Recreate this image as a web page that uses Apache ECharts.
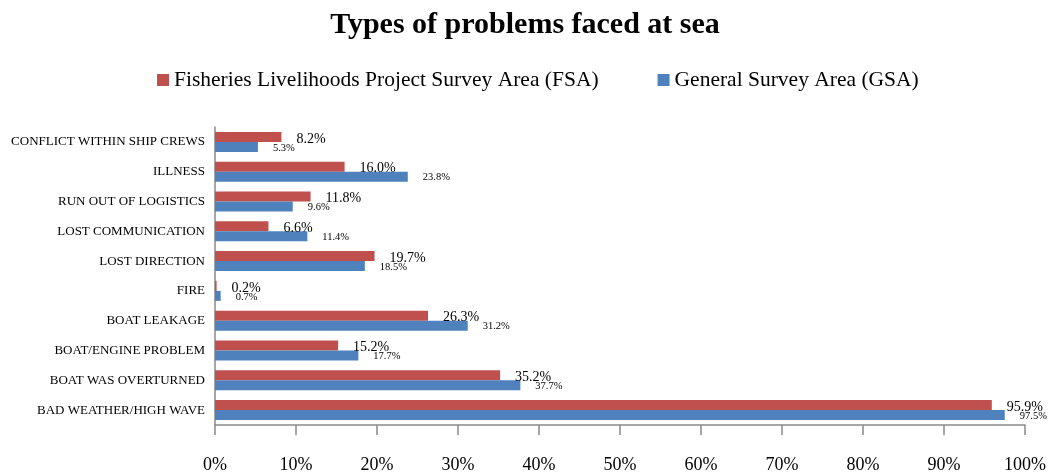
<!DOCTYPE html>
<html>
<head>
<meta charset="utf-8">
<script src="https://cdn.jsdelivr.net/npm/echarts@6/dist/echarts.min.js"></script>
<style>
  html, body { margin: 0; padding: 0; background: #fff; }
  #chart { width: 1050px; height: 475px; }
</style>
</head>
<body>
<div id="chart"></div>
<script>
// categories, bottom to top
const categories = [
  'BAD WEATHER/HIGH WAVE', 'BOAT WAS OVERTURNED', 'BOAT/ENGINE PROBLEM', 'BOAT LEAKAGE',
  'FIRE', 'LOST DIRECTION', 'LOST COMMUNICATION', 'RUN OUT OF LOGISTICS',
  'ILLNESS', 'CONFLICT WITHIN SHIP CREWS'
];
const fsaValues = [95.9, 35.2, 15.2, 26.3, 0.2, 19.7, 6.6, 11.8, 16.0, 8.2];
const gsaValues = [97.5, 37.7, 17.7, 31.2, 0.7, 18.5, 11.4, 9.6, 23.8, 5.3];
const xTicks = [0, 10, 20, 30, 40, 50, 60, 70, 80, 90, 100];

const FONT = '"Liberation Serif", "DejaVu Serif", serif';
const fsaName = 'Fisheries Livelihoods Project Survey Area (FSA)';
const gsaName = 'General Survey Area (GSA)';

const chart = echarts.init(document.getElementById('chart'));
chart.setOption({
  animation: false,
  textStyle: { fontFamily: FONT, color: '#000' },
  title: {
    text: 'Types of problems faced at sea',
    left: 'center',
    top: 5,
    textStyle: { fontFamily: FONT, fontSize: 30, fontWeight: 'bold', color: '#000' }
  },
  legend: {
    data: [fsaName, gsaName],
    left: 152,
    top: 64,
    icon: 'rect',
    itemWidth: 12,
    itemHeight: 12,
    itemGap: 59,
    textStyle: { fontFamily: FONT, fontSize: 21.5, color: '#000' }
  },
  grid: { left: 215, right: 25, top: 127, bottom: 50, containLabel: false },
  xAxis: {
    type: 'value',
    min: xTicks[0],
    max: xTicks[xTicks.length - 1],
    interval: 10,
    axisLine: { show: true, lineStyle: { color: '#898989', width: 1.5 } },
    axisTick: { show: true, length: 10, lineStyle: { color: '#898989', width: 1.5 } },
    splitLine: { show: false },
    axisLabel: { formatter: '{value}%', fontFamily: FONT, fontSize: 18, color: '#000', margin: 31 }
  },
  yAxis: {
    type: 'category',
    data: categories,
    axisLine: { show: true, lineStyle: { color: '#898989', width: 1.5 } },
    axisTick: { show: false },
    axisLabel: { fontFamily: FONT, fontSize: 13, color: '#000', margin: 10 }
  },
  series: [
    {
      name: fsaName,
      type: 'bar',
      data: fsaValues,
      barWidth: 10,
      barGap: '0%',
      itemStyle: { color: '#C0504D' },
      label: {
        show: true, position: 'right', distance: 15, offset: [0, 2],
        formatter: p => p.value.toFixed(1) + '%',
        fontFamily: FONT, fontSize: 14, color: '#000'
      }
    },
    {
      name: gsaName,
      type: 'bar',
      data: gsaValues,
      barWidth: 10,
      barGap: '0%',
      itemStyle: { color: '#4F81BD' },
      label: {
        show: true, position: 'right', distance: 15, offset: [0, 1],
        formatter: p => p.value.toFixed(1) + '%',
        fontFamily: FONT, fontSize: 10.5, color: '#000'
      }
    }
  ]
});
</script>
</body>
</html>
